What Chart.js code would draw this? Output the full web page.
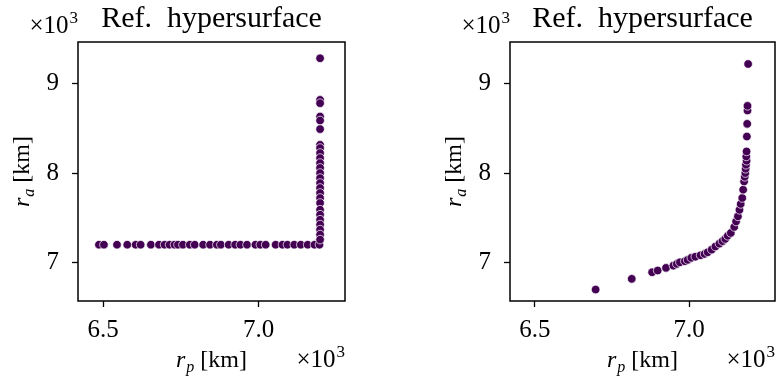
<!DOCTYPE html>
<html>
<head>
<meta charset="utf-8">
<script src="https://cdn.jsdelivr.net/npm/chart.js@4.4.1/dist/chart.umd.min.js"></script>
<style>
  html, body { margin: 0; padding: 0; background: #fff; }
  #wrap { position: relative; width: 780px; height: 383px; }
  canvas { position: absolute; top: 0; }
</style>
</head>
<body>
<div id="wrap">
  <canvas id="left" width="390" height="383" style="left:0"></canvas>
  <canvas id="right" width="390" height="383" style="left:390px"></canvas>
</div>
<script>
// values in units of 10^3 km
const leftRp = [
  6.487, 6.503, 6.545, 6.578, 6.605, 6.621, 6.654, 6.68, 6.698, 6.714, 6.73, 6.741,
  6.757, 6.779, 6.795, 6.822, 6.844, 6.866, 6.879, 6.904, 6.925, 6.942, 6.963, 6.99,
  7.006, 7.023, 7.055, 7.077, 7.093, 7.115, 7.136, 7.158, 7.18, 7.196,
  7.198, 7.198, 7.198, 7.198, 7.198, 7.198, 7.198, 7.198, 7.198, 7.198, 7.198, 7.198,
  7.198, 7.198, 7.198, 7.198, 7.198, 7.198, 7.198, 7.198, 7.198, 7.198, 7.198, 7.198,
  7.198, 7.198
];
const leftRa = [
  7.2, 7.2, 7.2, 7.2, 7.2, 7.2, 7.2, 7.2, 7.2, 7.2, 7.2, 7.2,
  7.2, 7.2, 7.2, 7.2, 7.2, 7.2, 7.2, 7.2, 7.2, 7.2, 7.2, 7.2,
  7.2, 7.2, 7.2, 7.2, 7.2, 7.2, 7.2, 7.2, 7.2, 7.2,
  9.287, 8.821, 8.784, 8.635, 8.59, 8.494, 8.318, 8.282, 8.226, 8.17, 8.114, 8.06,
  8.002, 7.946, 7.89, 7.835, 7.779, 7.723, 7.667, 7.592, 7.536, 7.48, 7.425, 7.369,
  7.313, 7.257
];
const rightRp = [
  6.697, 6.814, 6.88, 6.898, 6.925, 6.949, 6.96, 6.97, 6.986, 6.995, 7.007, 7.02,
  7.037, 7.05, 7.06, 7.073, 7.085, 7.098, 7.108, 7.117, 7.125, 7.135, 7.146, 7.152,
  7.158, 7.163, 7.167, 7.172, 7.175, 7.178, 7.18, 7.182, 7.183, 7.184, 7.186, 7.185,
  7.186, 7.187, 7.188, 7.189, 7.189, 7.191
];
const rightRa = [
  6.698, 6.818, 6.892, 6.911, 6.941, 6.966, 6.985, 7.003, 7.015, 7.03, 7.053, 7.065,
  7.082, 7.097, 7.115, 7.145, 7.18, 7.212, 7.24, 7.265, 7.30, 7.332, 7.399, 7.46,
  7.517, 7.59, 7.656, 7.723, 7.816, 7.908, 7.96, 8.002, 8.05, 8.095, 8.14, 8.188,
  8.244, 8.411, 8.553, 8.702, 8.754, 9.223
];
const xTicks = [6.5, 7.0];
const yTicks = [7, 8, 9];
const xLimits = [6.4196, 7.2781];
const yLimits = [6.570, 9.469];
const titleText = 'Ref.  hypersurface';

const dotColor = '#440154';
const serif = '"Liberation Serif", "Times New Roman", serif';

function drawMathLabel(ctx, x, y, sub) {
  // r_sub [km], centred on x, baseline y
  const fMain = '24px ' + serif, fIt = 'italic 24px ' + serif, fSub = 'italic 16px ' + serif;
  ctx.font = fIt; const w1 = ctx.measureText('r').width + 1;
  ctx.font = fSub; const w2 = ctx.measureText(sub).width;
  ctx.font = fMain; const w3 = ctx.measureText(' [km]').width;
  let cx = x - (w1 + w2 + w3) / 2;
  ctx.textAlign = 'left';
  ctx.textBaseline = 'alphabetic';
  ctx.font = fIt; ctx.fillText('r', cx, y); cx += w1;
  ctx.font = fSub; ctx.fillText(sub, cx, y + 5); cx += w2;
  ctx.font = fMain; ctx.fillText(' [km]', cx, y);
}

function drawOffset(ctx, xRight, y) {
  const fMain = '25px ' + serif, fSup = '17px ' + serif;
  ctx.font = fSup; const w2 = ctx.measureText('3').width;
  ctx.font = fMain; const w1 = ctx.measureText('\u00d710').width;
  const x0 = xRight - w1 - w2 - 1;
  ctx.textAlign = 'left';
  ctx.textBaseline = 'alphabetic';
  ctx.fillText('\u00d710', x0, y);
  ctx.font = fSup; ctx.fillText('3', x0 + w1 + 1, y - 10);
}

const decor = {
  id: 'decor',
  afterDraw(chart) {
    const ctx = chart.ctx;
    const a = chart.chartArea;
    ctx.save();
    ctx.strokeStyle = '#000';
    ctx.lineWidth = 1.5;
    ctx.strokeRect(a.left, a.top, a.right - a.left, a.bottom - a.top);
    ctx.fillStyle = '#000';
    // title
    ctx.font = '30px ' + serif;
    ctx.textAlign = 'center';
    ctx.textBaseline = 'alphabetic';
    ctx.fillText(titleText, (a.left + a.right) / 2, 27);
    // x label
    drawMathLabel(ctx, (a.left + a.right) / 2, 367, 'p');
    // y label (rotated)
    ctx.save();
    ctx.translate(a.left - 49, (a.top + a.bottom) / 2);
    ctx.rotate(-Math.PI / 2);
    drawMathLabel(ctx, 0, 0, 'a');
    ctx.restore();
    // offset texts
    drawOffset(ctx, a.right, 367);
    drawOffset(ctx, a.left, 33);
    ctx.restore();
  }
};

function makeChart(id, rp, ra, yWidth, padRight) {
  const tickFont = { family: serif, size: 25 };
  return new Chart(document.getElementById(id), {
    type: 'scatter',
    data: {
      datasets: [{
        data: rp.map((x, i) => ({ x: x, y: ra[i] })),
        backgroundColor: dotColor,
        borderColor: '#ffffff',
        borderWidth: 0.7,
        pointRadius: 4.3,
        pointHoverRadius: 4.3
      }]
    },
    options: {
      responsive: false,
      animation: false,
      devicePixelRatio: 1,
      layout: { padding: { top: 42, right: padRight, bottom: 0, left: 0 } },
      plugins: { legend: { display: false }, tooltip: { enabled: false } },
      scales: {
        x: {
          type: 'linear',
          min: xLimits[0],
          max: xLimits[1],
          afterFit(s) { s.height = 82; },
          afterBuildTicks(s) { s.ticks = xTicks.map(v => ({ value: v })); },
          ticks: { callback: v => v.toFixed(1), font: tickFont, color: '#000', padding: 8, maxRotation: 0 },
          grid: { drawOnChartArea: false, tickLength: 6, color: '#000', tickWidth: 1.3 },
          border: { display: false }
        },
        y: {
          type: 'linear',
          min: yLimits[0],
          max: yLimits[1],
          afterFit(s) { s.width = yWidth; },
          afterBuildTicks(s) { s.ticks = yTicks.map(v => ({ value: v })); },
          ticks: { callback: v => String(v), font: tickFont, color: '#000', padding: 13 },
          grid: { drawOnChartArea: false, tickLength: 6, color: '#000', tickWidth: 1.3 },
          border: { display: false }
        }
      }
    },
    plugins: [decor]
  });
}

makeChart('left', leftRp, leftRa, 78, 45);
makeChart('right', rightRp, rightRa, 120, 3);
</script>
</body>
</html>
